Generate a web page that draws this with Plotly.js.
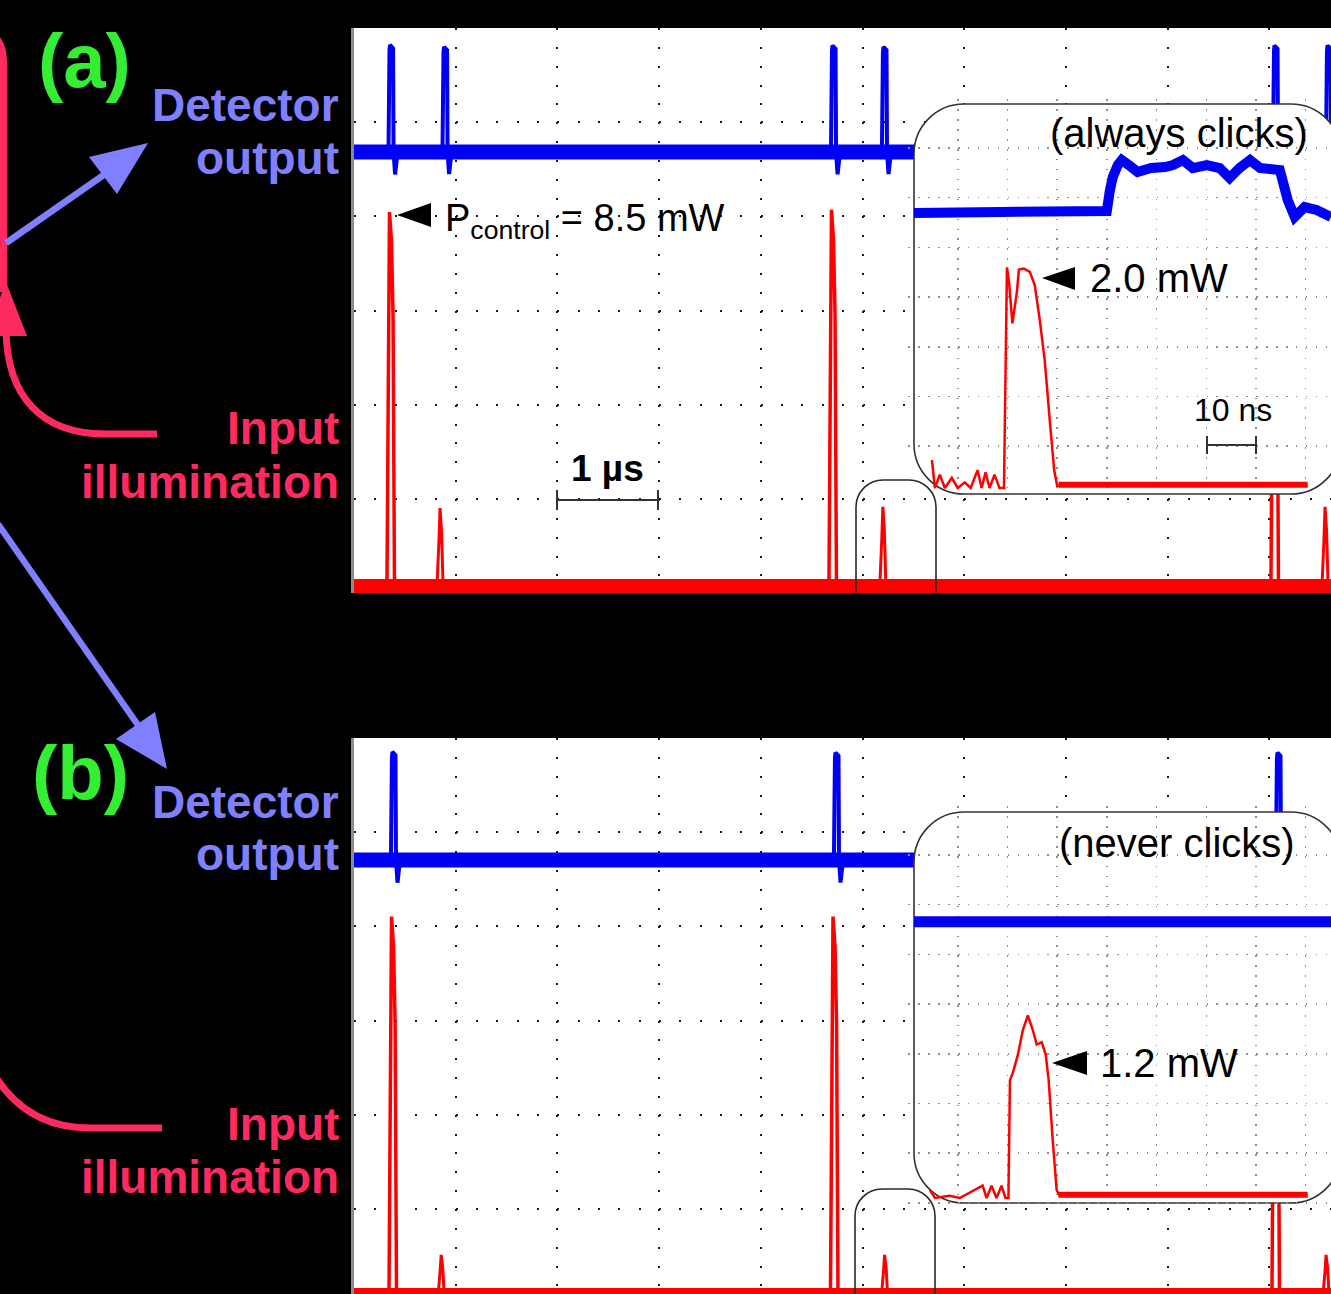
<!DOCTYPE html>
<html>
<head>
<meta charset="utf-8">
<script src="https://cdn.plot.ly/plotly-3.0.1.min.js"></script>
<style>
html,body{margin:0;padding:0;background:#000;}
#chart{width:1331px;height:1294px;}
</style>
</head>
<body>
<div id="chart"></div>
<script>
// ===================== DATA =====================
// Main traces: time in microseconds, red = optical power (mW), blue = detector output (V)
// (a) always clicks
const blueSpikeT_a = [0.369, 0.900, 4.720, 5.221, 9.066, 9.587];
const blueSpikeV_a = [1.136, 1.115, 1.13, 1.115, 1.13, 1.13];
const redBigT_a    = [0.354, 4.700, 9.046];
const redBigP_a    = [8.5, 8.55, 8.5];
const redSmallT_a  = [0.846, 5.200, 9.548];
const redSmallP_a  = [1.77, 1.80, 1.80];
// (b) never clicks
const blueSpikeT_b = [0.393, 4.749, 9.095];
const blueSpikeV_b = [1.147, 1.14, 1.14];
const redBigT_b    = [0.374, 4.715, 9.056];
const redBigP_b    = [8.6, 8.6, 8.6];
const redSmallT_b  = [0.857, 5.217, 9.558];
const redSmallP_b  = [0.91, 0.91, 0.91];

// pulse shapes (time offset in us, relative amplitude)
const bluePulseDt  = [-0.030, -0.020, -0.015, 0.015, 0.020, 0.035, 0.050, 0.070];
const bluePulseRel = [0, 0.95, 1, 0.97, 0, -0.21, -0.08, 0];
const redBigDt     = [-0.030, -0.005, 0.015, 0.030, 0.044];
const redBigRel    = [0, 1, 0.92, 0.72, 0];
const redSmallDt   = [-0.030, -0.010, 0, 0.015, 0.030];
const redSmallRel  = [0, 0.6, 1, 0.7, 0];

// Insets: time in ns
const insetRedT_a = [4.8, 5.4, 6.4, 7.4, 8.8, 10.0, 11.4, 12.6, 14.0, 14.8, 15.6, 16.4, 17.4, 18.4, 19.3, 19.9, 20.3, 21.0, 21.9, 22.3, 23.3, 24.5, 25.5, 26.5, 27.5, 28.5, 29.4, 30.0, 80.4];
const insetRedP_a = [0.25, 0, 0.12, 0, 0.09, 0, 0.05, 0, 0.16, 0, 0.14, 0, 0.12, 0, 0, 1.97, 1.85, 1.47, 1.75, 1.95, 1.96, 1.93, 1.81, 1.50, 1.14, 0.61, 0.16, 0.02, 0.02];
const insetNoiseT_a = [30.3, 80.4];
const insetNoiseP_a = [0.03, 0.03];
const insetBlueT_a = [1.2, 18.5, 40.0, 40.6, 41.2, 42.2, 43.0, 44.6, 46.2, 48.9, 51.7, 53.3, 55.3, 57.3, 60.1, 62.7, 64.7, 66.7, 68.8, 70.8, 74.8, 76.4, 77.8, 79.8, 82.2, 85.1];
const insetBlueV_a = [0, 0.004, 0.008, 0.09, 0.145, 0.193, 0.213, 0.19, 0.165, 0.181, 0.185, 0.193, 0.213, 0.181, 0.193, 0.181, 0.141, 0.181, 0.213, 0.181, 0.173, 0.052, -0.016, 0.024, 0.012, -0.016];

const insetRedT_b = [4.4, 5.4, 8.4, 10.4, 15.0, 15.8, 16.8, 17.8, 18.8, 19.6, 20.2, 20.5, 21.1, 22.1, 23.1, 24.1, 25.1, 25.9, 26.9, 27.7, 28.3, 29.1, 29.9, 30.5, 80.4];
const insetRedP_b = [0.07, 0, 0.02, 0, 0.11, 0, 0.11, 0, 0.11, 0, 0, 1.05, 1.12, 1.28, 1.50, 1.63, 1.50, 1.37, 1.39, 1.28, 1.05, 0.52, 0.07, 0.02, 0.02];
const insetNoiseT_b = [30.3, 80.4];
const insetNoiseP_b = [0.03, 0.03];
const insetBlueT_b = [1.2, 85.1];
const insetBlueV_b = [0, 0];

// ===================== LAYOUT GEOMETRY =====================
const W = 1331, H = 1294;
const L = 354;                 // main plot left (px)
const pxPerUs = 101.7, pxPerDiv = 94.2;
const pxPerMw = 44, pxPerV = 94.2;
const A = {top: 28, bot: 593, redZero: 586, blueZero: 152};
const B = {top: 738, bot: 1294, redZero: 1295, blueZero: 860};
// insets
const IL = 908.3, pxPerNs = 4.97, in0 = 0.05, inDiv = 49.7;
const pxPerMwIn = 112, pxPerVIn = 248.5;
const IA = {gridTop: 98.3, top: 99.3, bot: 495.2, redZero: 488, blueZero: 213, rect: [914, 104, 1341, 494]};
const IB = {gridTop: 805.3, top: 806.3, bot: 1204, redZero: 1198, blueZero: 921.7, rect: [914, 812, 1341, 1203]};

const FONT = 'Liberation Sans, Arial, Helvetica, sans-serif';
const RED = '#ff0000', BLUE = '#0000f5';
const PURPLE = '#8080ff', CRIMSON = '#ff2a5f', GREEN = '#33ee33';

function domY(top, bot) { return [Math.max(0, 1 - bot / H), Math.min(1, 1 - top / H)]; }
function rangeY(top, bot, zero, ppu) { return [(zero - bot) / ppu, (zero - top) / ppu]; }
function pulses(times, amps, dt, rel) {
  const x = [], y = [];
  times.forEach((t, i) => {
    dt.forEach((d, j) => { x.push(t + d); y.push(amps[i] * rel[j]); });
    x.push(null); y.push(null);
  });
  return {x, y};
}
const xMaxMain = (W - L) / pxPerUs;
const inXMax = in0 + (W - IL) / pxPerNs;

function line(x, y, xa, ya, color, width) {
  return {type: 'scatter', mode: 'lines', x, y, xaxis: xa, yaxis: ya,
          line: {color, width, simplify: false}, hoverinfo: 'skip', showlegend: false, connectgaps: false};
}

const traces = [];
// ---- panel (a) main
const rpA1 = pulses(redBigT_a, redBigP_a, redBigDt, redBigRel);
const rpA2 = pulses(redSmallT_a, redSmallP_a, redSmallDt, redSmallRel);
const bpA = pulses(blueSpikeT_a, blueSpikeV_a, bluePulseDt, bluePulseRel);
traces.push(line([0, xMaxMain], [0, 0], 'x2', 'y2', RED, 14));
traces.push(line(rpA1.x, rpA1.y, 'x2', 'y2', RED, 3.5));
traces.push(line(rpA2.x, rpA2.y, 'x2', 'y2', RED, 3));
traces.push(line([0, xMaxMain], [0, 0], 'x2', 'y3', BLUE, 15));
traces.push(line(bpA.x, bpA.y, 'x2', 'y3', BLUE, 4));
// ---- panel (b) main
const rpB1 = pulses(redBigT_b, redBigP_b, redBigDt, redBigRel);
const rpB2 = pulses(redSmallT_b, redSmallP_b, redSmallDt, redSmallRel);
const bpB = pulses(blueSpikeT_b, blueSpikeV_b, bluePulseDt, bluePulseRel);
traces.push(line([0, xMaxMain], [0, 0], 'x3', 'y4', RED, 14));
traces.push(line(rpB1.x, rpB1.y, 'x3', 'y4', RED, 3.5));
traces.push(line(rpB2.x, rpB2.y, 'x3', 'y4', RED, 3));
traces.push(line([0, xMaxMain], [0, 0], 'x3', 'y5', BLUE, 15));
traces.push(line(bpB.x, bpB.y, 'x3', 'y5', BLUE, 4));
// ---- inset (a)
traces.push(line(insetNoiseT_a, insetNoiseP_a, 'x4', 'y6', RED, 6));
traces.push(line(insetRedT_a, insetRedP_a, 'x4', 'y6', RED, 2.5));
traces.push(line(insetBlueT_a, insetBlueV_a, 'x4', 'y7', BLUE, 10));
// ---- inset (b)
traces.push(line(insetNoiseT_b, insetNoiseP_b, 'x5', 'y8', RED, 6));
traces.push(line(insetRedT_b, insetRedP_b, 'x5', 'y8', RED, 2.5));
traces.push(line(insetBlueT_b, insetBlueV_b, 'x5', 'y9', BLUE, 11));

// ---- axes
const hidden = {showticklabels: false, ticks: '', zeroline: false, fixedrange: true};
const mainX = (anchor, ya) => Object.assign({}, hidden, {
  domain: [L / W, 1], range: [0, xMaxMain], anchor: ya,
  tickmode: 'linear', tick0: 0, dtick: 1,
  showgrid: true, gridcolor: '#1a1a1a', gridwidth: 2, griddash: '2px,' + (pxPerDiv / 5 - 2).toFixed(3) + 'px',
  showline: false
});
const mainRedY = (P, xa) => Object.assign({}, hidden, {
  domain: domY(P.top, P.bot), range: rangeY(P.top, P.bot, P.redZero, pxPerMw), anchor: xa,
  tickmode: 'linear', tick0: (P.redZero - P.top) / pxPerMw, dtick: pxPerDiv / pxPerMw,
  showgrid: true, gridcolor: '#1a1a1a', gridwidth: 2, griddash: '2px,' + (pxPerUs / 5 - 2).toFixed(3) + 'px',
  showline: true, linecolor: '#8c8c8c', linewidth: 3
});
const mainBlueY = (P, over, xa) => Object.assign({}, hidden, {
  overlaying: over, anchor: xa, range: rangeY(P.top, P.bot, P.blueZero, pxPerV),
  showgrid: false, visible: false
});
const inX = (ya) => Object.assign({}, hidden, {
  domain: [IL / W, 1], range: [in0, inXMax], anchor: ya,
  tickmode: 'linear', tick0: 0, dtick: 10,
  showgrid: true, gridcolor: '#8f8f8f', gridwidth: 1.5, griddash: '1.5px,' + (inDiv / 5 - 1.5).toFixed(3) + 'px',
  showline: false
});
const inRedY = (P, xa) => Object.assign({}, hidden, {
  domain: domY(P.top, P.bot), range: rangeY(P.top, P.bot, P.redZero, pxPerMwIn), anchor: xa,
  tickmode: 'linear', tick0: (P.redZero - P.gridTop) / pxPerMwIn, dtick: inDiv / pxPerMwIn,
  showgrid: true, gridcolor: '#8f8f8f', gridwidth: 1.5, griddash: '1.5px,' + (inDiv / 5 - 1.5).toFixed(3) + 'px',
  showline: false
});
const inBlueY = (P, over, xa) => Object.assign({}, hidden, {
  overlaying: over, anchor: xa, range: rangeY(P.top, P.bot, P.blueZero, pxPerVIn),
  showgrid: false, visible: false
});

// ---- shape helpers
const f = (v) => v.toFixed(5);
const paperX = (x) => x / W, paperY = (y) => 1 - y / H;
function roundRectPath(x0, y0, x1, y1, r, fx, fy) {
  const k = 0.5523 * r;
  return 'M' + f(fx(x0 + r)) + ',' + f(fy(y0)) +
    ' L' + f(fx(x1 - r)) + ',' + f(fy(y0)) +
    ' C' + f(fx(x1 - r + k)) + ',' + f(fy(y0)) + ' ' + f(fx(x1)) + ',' + f(fy(y0 + r - k)) + ' ' + f(fx(x1)) + ',' + f(fy(y0 + r)) +
    ' L' + f(fx(x1)) + ',' + f(fy(y1 - r)) +
    ' C' + f(fx(x1)) + ',' + f(fy(y1 - r + k)) + ' ' + f(fx(x1 - r + k)) + ',' + f(fy(y1)) + ' ' + f(fx(x1 - r)) + ',' + f(fy(y1)) +
    ' L' + f(fx(x0 + r)) + ',' + f(fy(y1)) +
    ' C' + f(fx(x0 + r - k)) + ',' + f(fy(y1)) + ' ' + f(fx(x0)) + ',' + f(fy(y1 - r + k)) + ' ' + f(fx(x0)) + ',' + f(fy(y1 - r)) +
    ' L' + f(fx(x0)) + ',' + f(fy(y0 + r)) +
    ' C' + f(fx(x0)) + ',' + f(fy(y0 + r - k)) + ' ' + f(fx(x0 + r - k)) + ',' + f(fy(y0)) + ' ' + f(fx(x0 + r)) + ',' + f(fy(y0)) + ' Z';
}
function pPath(cmds) { // cmds: array of [letter, x, y, x, y ...] in px
  return cmds.map(c => c[0] + c.slice(1).reduce((s, v, i) => s + (i % 2 === 0 ? (i ? ' ' : '') + f(paperX(v)) : ',' + f(paperY(v))), '')).join(' ');
}
const inXfromPx = (px) => in0 + (px - IL) / pxPerNs;
const mainXfromPx = (px) => (px - L) / pxPerUs;

const shapes = [];
// white plotting areas
[A, B].forEach(P => shapes.push({type: 'rect', xref: 'paper', yref: 'paper', layer: 'below',
  x0: paperX(L), x1: 1, y0: paperY(Math.min(P.bot, H)), y1: paperY(P.top), fillcolor: '#ffffff', line: {width: 0}}));
// inset rounded boxes (drawn in the inset subplots, under their grid and traces)
[[IA, 'x4', 'y6'], [IB, 'x5', 'y8']].forEach(([P, xa, ya]) => {
  const r = P.rect;
  shapes.push({type: 'path', xref: xa, yref: ya, layer: 'below',
    path: roundRectPath(r[0], r[1], r[2], r[3], 50, inXfromPx, (py) => (P.redZero - py) / pxPerMwIn),
    fillcolor: '#ffffff', line: {color: '#333333', width: 1.6}});
});
// small boxes around the weak pulses (clipped by the main plotting area)
[[A, 'x2', 'y2', [856, 480, 936, 640]], [B, 'x3', 'y4', [855, 1189, 935, 1345]]].forEach(([P, xa, ya, b]) => shapes.push({
  type: 'path', xref: xa, yref: ya, layer: 'above',
  path: roundRectPath(b[0], b[1], b[2], b[3], 27, mainXfromPx, (py) => (P.redZero - py) / pxPerMw),
  line: {color: '#2a2a2a', width: 1.6}}));
// pointer triangles
[[397, 215, 431, 203, 227], [1042, 278, 1075, 267, 290], [1052, 1063, 1087, 1051, 1075]].forEach(t => shapes.push({
  type: 'path', xref: 'paper', yref: 'paper', layer: 'above',
  path: pPath([['M', t[0], t[1]], ['L', t[2], t[3]], ['L', t[2], t[4]]]) + ' Z', fillcolor: '#000000', line: {width: 0}}));
// scale bars
function scaleBar(x0, x1, y, h) {
  const s = {type: 'line', xref: 'paper', yref: 'paper', layer: 'above', line: {color: '#333333', width: 2}};
  shapes.push(Object.assign({}, s, {x0: paperX(x0), x1: paperX(x1), y0: paperY(y), y1: paperY(y)}));
  shapes.push(Object.assign({}, s, {x0: paperX(x0), x1: paperX(x0), y0: paperY(y - h), y1: paperY(y + h)}));
  shapes.push(Object.assign({}, s, {x0: paperX(x1), x1: paperX(x1), y0: paperY(y - h), y1: paperY(y + h)}));
}
scaleBar(557, 658, 500, 10);
scaleBar(1207, 1256, 445, 9);
// left-side decorations
const deco = (path, color, width, fill) => shapes.push({type: 'path', xref: 'paper', yref: 'paper', layer: 'above',
  path, line: {color, width}, fillcolor: fill || 'rgba(0,0,0,0)'});
deco(pPath([['M', 3.5, 292], ['L', 3.5, 62], ['Q', 3.5, 30, -28, 30]]), CRIMSON, 7);
deco(pPath([['M', 157, 434], ['L', 105, 434], ['C', 40, 434, 7, 395, 6, 330]]), CRIMSON, 7);
deco(pPath([['M', 6, 282], ['L', 27, 336], ['L', -15, 336]]) + ' Z', CRIMSON, 0, CRIMSON);
deco(pPath([['M', 162, 1128], ['L', 90, 1128], ['C', 45, 1128, 15, 1108, -5, 1076]]), CRIMSON, 7);
deco(pPath([['M', 6, 243], ['L', 108, 172]]), PURPLE, 6.5);
deco(pPath([['M', 148, 143], ['L', 117, 194], ['L', 89, 157]]) + ' Z', PURPLE, 0, PURPLE);
deco(pPath([['M', -2, 524], ['L', 140, 728]]), PURPLE, 6.5);
deco(pPath([['M', 167, 769], ['L', 116, 739], ['L', 155, 712]]) + ' Z', PURPLE, 0, PURPLE);

// ---- annotations
const ann = (text, x, y, size, color, xanchor, bold) => ({
  text: bold ? '<b>' + text + '</b>' : text, x: paperX(x), y: paperY(y), xref: 'paper', yref: 'paper',
  xanchor: xanchor, yanchor: 'middle', showarrow: false, font: {family: FONT, size, color}, borderpad: 0
});
const annotations = [
  ann('(a)', 84, 60, 76, GREEN, 'center', true),
  ann('(b)', 80, 772, 76, GREEN, 'center', true),
  ann('Detector', 340, 105, 46, PURPLE, 'right', true),
  ann('output', 340, 158, 46, PURPLE, 'right', true),
  ann('Input', 340, 428, 46, CRIMSON, 'right', true),
  ann('illumination', 340, 482, 46, CRIMSON, 'right', true),
  ann('Detector', 340, 802, 46, PURPLE, 'right', true),
  ann('output', 340, 854, 46, PURPLE, 'right', true),
  ann('Input', 340, 1124, 46, CRIMSON, 'right', true),
  ann('illumination', 340, 1177, 46, CRIMSON, 'right', true),
  ann('P<sub>control</sub> = 8.5 mW', 444, 221, 38, '#000000', 'left', false),
  ann('1 µs', 607, 469, 37, '#000000', 'center', true),
  ann('(always clicks)', 1179, 133, 40, '#000000', 'center', false),
  ann('2.0 mW', 1089, 278, 40, '#000000', 'left', false),
  ann('10 ns', 1233, 410, 32, '#000000', 'center', false),
  ann('(never clicks)', 1177, 843, 40, '#000000', 'center', false),
  ann('1.2 mW', 1099, 1063, 40, '#000000', 'left', false)
];

const layout = {
  width: W, height: H,
  margin: {l: 0, r: 0, t: 0, b: 0, pad: 0},
  paper_bgcolor: '#000000', plot_bgcolor: 'rgba(0,0,0,0)',
  showlegend: false, dragmode: false, hovermode: false,
  xaxis2: mainX('x2', 'y2'), yaxis2: mainRedY(A, 'x2'), yaxis3: mainBlueY(A, 'y2', 'x2'),
  xaxis3: mainX('x3', 'y4'), yaxis4: mainRedY(B, 'x3'), yaxis5: mainBlueY(B, 'y4', 'x3'),
  xaxis4: inX('y6'), yaxis6: inRedY(IA, 'x4'), yaxis7: inBlueY(IA, 'y6', 'x4'),
  xaxis5: inX('y8'), yaxis8: inRedY(IB, 'x5'), yaxis9: inBlueY(IB, 'y8', 'x5'),
  shapes, annotations
};

Plotly.newPlot('chart', traces, layout, {staticPlot: true, displayModeBar: false});
</script>
</body>
</html>
